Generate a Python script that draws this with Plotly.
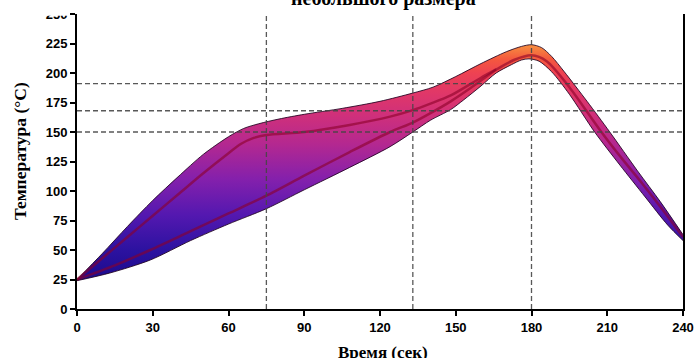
import plotly.graph_objects as go

# ---- data ----
time_upper = [0, 10, 20, 30, 40, 50, 60, 66, 72, 80, 90, 105, 120, 133, 141, 150, 160, 170, 176, 180, 184, 188, 193, 202, 211, 222, 231, 240]
temp_upper = [25, 47, 70, 92, 112, 131, 146, 153, 157, 161, 165, 170, 176, 183, 188, 197, 208, 218, 222.5, 224, 221.5, 214, 201, 176, 150, 117, 91, 63]

time_lower = [0, 13, 29, 45, 60, 75, 90, 108, 124, 133, 140, 148, 153, 160, 166, 172, 176, 179, 183, 188, 195, 205, 215, 225, 234, 240]
temp_lower = [24, 30.5, 41.5, 58, 72, 85, 101, 120, 137.6, 150, 160, 169, 177, 189, 200, 207, 211, 212, 210, 201, 182, 150, 122, 95, 71, 58]

time_fast = [0, 10, 20, 30, 40, 50, 60, 65, 70, 75, 90, 108, 124, 133, 140, 148, 160, 166, 173, 180, 186, 195, 207, 216, 224, 232, 240]
temp_fast = [25, 43, 61, 79, 97, 115, 132, 140, 145, 147.5, 150, 156, 163, 168.5, 174, 181, 196, 203, 211, 215, 210, 188, 152, 127, 106, 84, 61]

time_slow = [0, 15, 29, 45, 60, 75, 90, 108, 124, 133, 140, 148, 155, 166]
temp_slow = [25, 37, 50, 66, 81, 96, 113, 133, 150, 158, 166, 176, 186, 203]

vlines = [75, 133, 180]
hlines = [150, 168, 191]

x_ticks = [0, 30, 60, 90, 120, 150, 180, 210, 240]
y_ticks = [0, 25, 50, 75, 100, 125, 150, 175, 200, 225, 250]

title_text = "небольшого размера"
x_title = "Время (сек)"
y_title = "Температура (°C)"

# ---- styling ----
grad = [
    [0.0, "#1a0a8a"],
    [0.137, "#2c12a0"],
    [0.284, "#5418b0"],
    [0.431, "#8420ac"],
    [0.578, "#b42890"],
    [0.70, "#d0307a"],
    [0.80, "#e23866"],
    [0.873, "#ee4252"],
    [0.93, "#f4583e"],
    [1.0, "#f79a40"],
]
outline = "rgba(30,0,30,0.85)"
inner = "rgba(140,0,40,0.6)"
tick_font = dict(family="Liberation Sans Narrow, Arial Narrow, Liberation Sans, Arial", size=13, color="black")
serif = "Liberation Serif, Times New Roman, serif"

fig = go.Figure()
fig.add_trace(go.Scatter(
    x=time_lower, y=temp_lower, mode="lines",
    line=dict(color=outline, width=1, shape="spline", smoothing=0.8),
    hoverinfo="skip", showlegend=False))
fig.add_trace(go.Scatter(
    x=time_upper, y=temp_upper, mode="lines", fill="tonexty",
    fillgradient=dict(type="vertical", colorscale=grad, start=22, stop=226),
    line=dict(color=outline, width=1, shape="spline", smoothing=0.8),
    hoverinfo="skip", showlegend=False))
fig.add_trace(go.Scatter(
    x=time_slow, y=temp_slow, mode="lines",
    line=dict(color=inner, width=2.5, shape="spline", smoothing=0.8),
    hoverinfo="skip", showlegend=False))
fig.add_trace(go.Scatter(
    x=time_fast, y=temp_fast, mode="lines",
    line=dict(color=inner, width=2.5, shape="spline", smoothing=0.8),
    hoverinfo="skip", showlegend=False))

shapes = []
for v in vlines:
    shapes.append(dict(type="line", xref="x", yref="y", x0=v, x1=v, y0=0, y1=250,
                       line=dict(color="rgba(70,70,70,0.9)", width=1.3, dash="5px,3px"), layer="above"))
for h in hlines:
    shapes.append(dict(type="line", xref="x", yref="y", x0=0, x1=240, y0=h, y1=h,
                       line=dict(color="rgba(70,70,70,0.9)", width=1.3, dash="5px,3px"), layer="above"))
# white strip hiding most of the clipped uppermost tick label (as in the reference crop)
shapes.append(dict(type="rect", xref="paper", yref="paper", x0=-0.2, x1=-0.012, y0=0.994, y1=1.1,
                   fillcolor="white", line=dict(width=0), layer="above"))

fig.update_layout(
    width=694, height=358,
    margin=dict(l=77, r=11, t=14, b=49, autoexpand=False),
    paper_bgcolor="white", plot_bgcolor="white",
    showlegend=False,
    shapes=shapes,
    annotations=[
        dict(text=f"<b>{title_text}</b>", xref="paper", yref="paper", x=0.506, y=1.051,
             xanchor="center", yanchor="middle", showarrow=False,
             font=dict(family=serif, size=20, color="black")),
        dict(text=f"<b>{x_title}</b>", xref="paper", yref="paper", x=0.505, y=-0.148,
             xanchor="center", yanchor="middle", showarrow=False,
             font=dict(family=serif, size=17, color="black")),
        dict(text=f"<b>{y_title}</b>", xref="paper", yref="paper", x=-0.093, y=0.534,
             xanchor="center", yanchor="middle", showarrow=False, textangle=-90,
             font=dict(family=serif, size=17.5, color="black")),
    ],
    xaxis=dict(range=[0, 240], tickvals=x_ticks, ticktext=[f"<b>{t}</b>" for t in x_ticks],
               showgrid=False, zeroline=False, showline=True, linecolor="black", linewidth=2,
               ticks="outside", ticklen=5, tickwidth=2, tickcolor="black", tickfont=tick_font,
               mirror=False, fixedrange=True, automargin=False),
    yaxis=dict(range=[0, 250], tickvals=y_ticks, ticktext=[f"<b>{t}</b>" for t in y_ticks],
               showgrid=False, zeroline=False, showline=True, linecolor="black", linewidth=2,
               ticks="outside", ticklen=5, tickwidth=2, tickcolor="black", tickfont=tick_font,
               mirror=True, fixedrange=True, automargin=False),
)

fig.write_html("out.html", config={"displayModeBar": False},
               post_script="document.body.style.margin='0';document.body.style.overflow='hidden';")
